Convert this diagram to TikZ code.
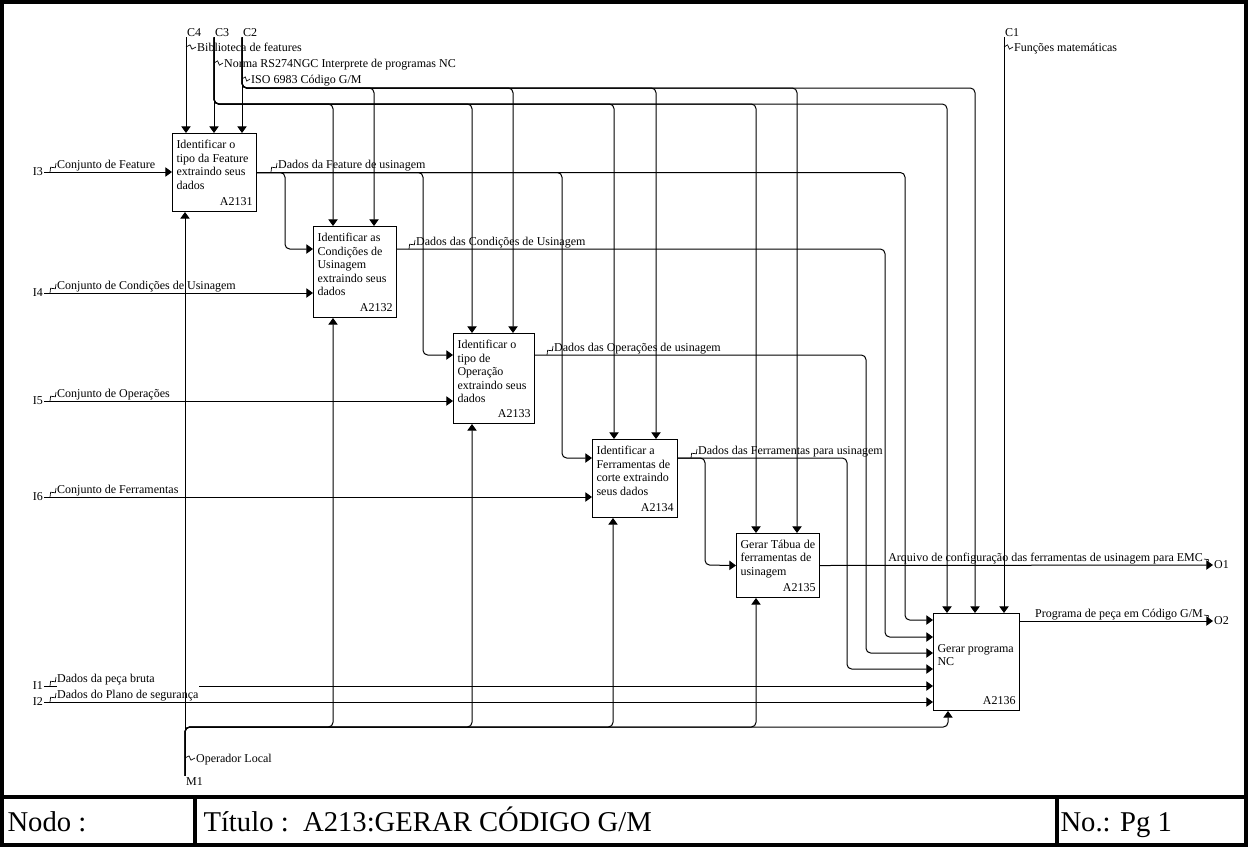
\documentclass[tikz,border=0pt]{standalone}
\usepackage{fontspec}
\setmainfont{Liberation Serif}
\usetikzlibrary{arrows.meta,calc,positioning}

\newcommand{\raio}[2]{\draw[fino] (#1) -- ($(#1)!0.4!(#2)!1.6pt!90:(#2)$) -- ($(#1)!0.6!(#2)!1.6pt!-90:(#2)$) -- (#2);}

\begin{document}
\begin{tikzpicture}[x=0.75pt, y=-0.75pt, line width=0.75pt,
      caixa/.style={draw, inner sep=0pt, anchor=north west},
      dentro/.style={anchor=north west, align=left, inner sep=2pt, font=\fontsize{9}{10.1}\selectfont},
      numero/.style={anchor=south east, inner xsep=3pt, inner ysep=4.5pt, font=\fontsize{9}{10.1}\selectfont},
      rotulo/.style={inner sep=0.5pt, font=\fontsize{9}{10.1}\selectfont},
      seta/.style={-{Triangle[length=5pt,width=7pt]}, rounded corners=3.5pt},
      fino/.style={line width=0.5pt},
      titulo/.style={anchor=base west, inner sep=0pt, font=\fontsize{21.5}{24}\selectfont}]

\useasboundingbox (0,0) rectangle (1248,847);
\draw[line width=3pt] (2,2) rectangle (1246,845);
\draw[line width=3pt] (2,797) -- (1246,797);
\draw[line width=2.5pt] (195,797) -- (195,845);
\draw[line width=2.5pt] (1057,797) -- (1057,845);
\node[titulo] (nodo) at (7,831) {Nodo :};
\node[titulo] (tit) at (203,831) {Título :\ \ A213:GERAR CÓDIGO G/M};
\node[titulo] (pag) at (1060,831) {No.: Pg 1};

\node[caixa, minimum width=63pt, minimum height=58.5pt] (a1) at (172,133) {};
\node[caixa, minimum width=62.25pt, minimum height=68.25pt] (a2) at (313,226) {};
\node[caixa, minimum width=60.75pt, minimum height=67.5pt] (a3) at (453,333) {};
\node[caixa, minimum width=63.75pt, minimum height=58.5pt] (a4) at (592,439) {};
\node[caixa, minimum width=62.25pt, minimum height=48pt] (a5) at (736,533) {};
\node[caixa, minimum width=64.5pt, minimum height=72.75pt] (a6) at (933,613) {};

\node[dentro] at ([shift={(1pt,-3pt)}]a1.north west) {Identificar o\\tipo da Feature\\extraindo seus\\dados};
\node[dentro] at ([shift={(1pt,-3pt)}]a2.north west) {Identificar as\\Condições de\\Usinagem\\extraindo seus\\dados};
\node[dentro] at ([shift={(1pt,-3pt)}]a3.north west) {Identificar o\\tipo de\\Operação\\extraindo seus\\dados};
\node[dentro] at ([shift={(1pt,-3pt)}]a4.north west) {Identificar a\\Ferramentas de\\corte extraindo\\seus dados};
\node[dentro] at ([shift={(1pt,-3pt)}]a5.north west) {Gerar Tábua de\\ferramentas de\\usinagem};
\node[dentro] at ([shift={(1pt,-21pt)}]a6.north west) {Gerar programa\\NC};
\node[numero] at (a1.south east) {A2131};
\node[numero] at (a2.south east) {A2132};
\node[numero] at (a3.south east) {A2133};
\node[numero] at (a4.south east) {A2134};
\node[numero] at (a5.south east) {A2135};
\node[numero] at (a6.south east) {A2136};

\node[rotulo, anchor=base west] (c4) at (186,36) {C4};
\node[rotulo, anchor=base west] (c3) at (214,36) {C3};
\node[rotulo, anchor=base west] (c2) at (242,36) {C2};
\node[rotulo, anchor=base west] (c1) at (1004,36) {C1};
\draw[seta] (c4.south west) -- (c4.south west |- a1.north);
\draw[seta] (c3.south west) -- (c3.south west |- a1.north);
\draw[seta] (c2.south west) -- (c2.south west |- a1.north);
\draw[seta] (c3.south west) |- (333,104) -- (a2.north -| 333,0);
\draw[seta] (c3.south west) |- (472,104) -- (a3.north -| 472,0);
\draw[seta] (c3.south west) |- (614,104) -- (a4.north -| 614,0);
\draw[seta] (c3.south west) |- (756,104) -- (a5.north -| 756,0);
\draw[seta] (c3.south west) |- (947,104) -- (a6.north -| 947,0);
\draw[seta] (c2.south west) |- (374,88) -- (a2.north -| 374,0);
\draw[seta] (c2.south west) |- (513,88) -- (a3.north -| 513,0);
\draw[seta] (c2.south west) |- (656,88) -- (a4.north -| 656,0);
\draw[seta] (c2.south west) |- (797,88) -- (a5.north -| 797,0);
\draw[seta] (c2.south west) |- (975,88) -- (a6.north -| 975,0);
\draw[seta] (c1.south west) -- (c1.south west |- a6.north);

\node[rotulo, anchor=east] (i3) at (44,172) {I3};
\node[rotulo, anchor=east] (i4) at (44,293) {I4};
\node[rotulo, anchor=east] (i5) at (44,401) {I5};
\node[rotulo, anchor=east] (i6) at (44,497) {I6};
\node[rotulo, anchor=east] (i1) at (44,686) {I1};
\node[rotulo, anchor=east] (i2) at (44,702) {I2};
\draw[seta] (i3) -- (a1.west |- i3);
\draw[seta] (i4) -- (a2.west |- i4);
\draw[seta] (i5) -- (a3.west |- i5);
\draw[seta] (i6) -- (a4.west |- i6);
\draw[seta] (i1) -- (a6.west |- i1);

\draw[seta] (a1.east) -| (285,249) -- (a2.west |- 0,249);
\draw[seta] (a1.east) -| (423,355) -- (a3.west |- 0,355);
\draw[seta] (a1.east) -| (562,458) -- (a4.west |- 0,458);
\draw[seta] (a1.east) -| (905,620) -- (a6.west |- 0,620);
\draw[seta] (a2.east |- 0,249) -| (885,637) -- (a6.west |- 0,637);
\draw[seta] (a3.east |- 0,355) -| (866,653) -- (a6.west |- 0,653);
\draw[seta] (a4.east |- 0,458) -| (847,669) -- (a6.west |- 0,669);
\draw[seta] (a4.east |- 0,458) -| (705,565) -- (a5.west);

\node[rotulo, anchor=west] (o1) at (1213,565) {O1};
\node[rotulo, anchor=west] (o2) at (1213,621) {O2};
\draw[seta] (a5.east) -- (o1);
\draw[seta] (a6.east |- o2) -- (o2);

\node[rotulo, anchor=base west] (t1) at (196,51) {Biblioteca de features};
\node[rotulo, anchor=base west] (t2) at (223,67) {Norma RS274NGC Interprete de programas NC};
\node[rotulo, anchor=base west] (t3) at (250,83) {ISO 6983 Código G/M};
\node[rotulo, anchor=base west] (t4) at (1013,51) {Funções matemáticas};
\raio{186,47}{196,47}
\raio{214,63}{223,63}
\raio{242,79}{250,79}
\raio{1004,47}{1013,47}

\node[rotulo, anchor=base west] (e1) at (56,168) {Conjunto de Feature};
\node[rotulo, anchor=base west] (e2) at (56,289) {Conjunto de Condições de Usinagem};
\node[rotulo, anchor=base west] (e3) at (56,397) {Conjunto de Operações};
\node[rotulo, anchor=base west] (e4) at (56,493) {Conjunto de Ferramentas};
\node[rotulo, anchor=base west, fill=white, inner ysep=4pt] (e6) at (56,698) {Dados do Plano de segurança};
\node[rotulo, anchor=base west] (e5) at (56,682) {Dados da peça bruta};
\draw[seta] (i2) -- (a6.west |- i2);
\raio{50,172}{56,163}
\raio{50,293}{56,284}
\raio{50,401}{56,392}
\raio{50,497}{56,488}
\raio{50,686}{56,677}
\raio{50,702}{56,693}

\node[rotulo, anchor=base west] (s1) at (277,168) {Dados da Feature de usinagem};
\node[rotulo, anchor=base west] (s2) at (415,245) {Dados das Condições de Usinagem};
\node[rotulo, anchor=base west] (s3) at (553,351) {Dados das Operações de usinagem};
\node[rotulo, anchor=base west] (s4) at (697,454) {Dados das Ferramentas para usinagem};
\node[rotulo, anchor=base east] (s5) at (1204,561) {Arquivo de configuração das ferramentas de usinagem para EMC};
\node[rotulo, anchor=base east] (s6) at (1204,617) {Programa de peça em Código G/M};
\raio{271,172}{277,163}
\raio{409,249}{415,240}
\raio{547,355}{553,346}
\raio{691,458}{697,449}
\raio{1204,559}{1212,565}
\raio{1204,615}{1212,621}

\node[rotulo, anchor=base west] (m1) at (185,785) {M1};
\node[rotulo, anchor=base west] (t5) at (195,762) {Operador Local};
\raio{185,758}{195,758}
\draw[seta] (m1.north west) -- (m1.north west |- a1.south);
\draw[seta] (m1.north west) |- (333,727) -- (a2.south -| 333,0);
\draw[seta] (m1.north west) |- (472,727) -- (a3.south -| 472,0);
\draw[seta] (m1.north west) |- (613,727) -- (a4.south -| 613,0);
\draw[seta] (m1.north west) |- (756,727) -- (a5.south -| 756,0);
\draw[seta] (m1.north west) |- (948,727) -- (a6.south -| 948,0);

\end{tikzpicture}
\end{document}
